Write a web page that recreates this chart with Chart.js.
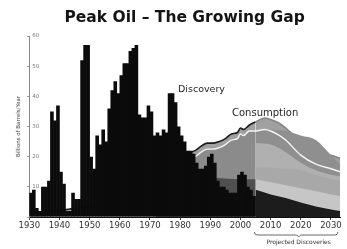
<!DOCTYPE html>
<html>
<head>
<meta charset="utf-8">
<script src="https://cdn.jsdelivr.net/npm/chart.js@4.4.0/dist/chart.umd.min.js"></script>
<style>
  html, body { margin: 0; padding: 0; background: #fff; }
</style>
</head>
<body>
<canvas id="chart" width="347" height="249"></canvas>
<script>
// Discoveries per year (billions of barrels)
const discoveryYears = [
  1930, 1931, 1932, 1933, 1934, 1935, 1936, 1937, 1938, 1939,
  1940, 1941, 1942, 1943, 1944, 1945, 1946, 1947, 1948, 1949,
  1950, 1951, 1952, 1953, 1954, 1955, 1956, 1957, 1958, 1959,
  1960, 1961, 1962, 1963, 1964, 1965, 1966, 1967, 1968, 1969,
  1970, 1971, 1972, 1973, 1974, 1975, 1976, 1977, 1978, 1979,
  1980, 1981, 1982, 1983, 1984, 1985, 1986, 1987, 1988, 1989,
  1990, 1991, 1992, 1993, 1994, 1995, 1996, 1997, 1998, 1999,
  2000, 2001, 2002, 2003, 2004
];
const discoveryValues = [
  8, 9, 3, 2, 10, 10, 12, 35, 32, 37,
  15, 11, 2, 2, 8, 6, 6, 52, 57, 57,
  20, 16, 27, 24, 29, 25, 36, 42, 45, 41,
  47, 51, 51, 55, 56, 57, 34, 33, 33, 37,
  35, 27, 28, 27, 29, 28, 41, 41, 38, 30,
  27, 25, 22, 22, 21, 18, 16, 16, 17, 20,
  21, 18, 12, 10, 10, 9, 8, 8, 8, 14,
  15, 14, 10, 9, 7
];

// Consumption (top edge of the grey area)
const consYears  = [1930, 1940, 1950, 1960, 1965, 1970, 1973, 1975, 1978, 1979, 1981, 1983, 1985, 1987, 1989, 1991, 1993, 1995, 1997, 1999, 2000, 2001, 2003, 2005, 2008, 2010, 2013, 2015, 2020, 2025, 2030, 2033];
const consValues = [1.5, 2.2, 4, 7.7, 11.5, 16.5, 20.5, 20, 23, 23.5, 22, 21.5, 22, 23.5, 24.5, 24.5, 25, 26, 27.5, 28, 29.5, 29, 30.5, 31.5, 32.8, 32.3, 31, 29.5, 25, 22.5, 20.5, 19.5];

// White line just below consumption
const whiteYears  = [1972, 1975, 1978, 1979, 1981, 1983, 1985, 1987, 1989, 1991, 1993, 1995, 1997, 1999, 2000, 2001, 2003, 2005, 2008, 2010, 2013, 2015, 2020, 2025, 2030, 2033];
const whiteValues = [17, 18, 20.5, 21.5, 20, 19.5, 20, 21.5, 22.5, 22.5, 23, 24, 25.5, 26, 27.5, 27, 28.5, 28.5, 29, 28.5, 27, 25.5, 20.5, 17.5, 16, 15];

// Lower historical band
const histDarkYears  = [1972, 1980, 1990, 2000, 2005];
const histDarkValues = [13, 13, 13, 12.5, 12.5];

// Projection bands
const projYears       = [2005, 2010, 2015, 2020, 2025, 2030, 2033];
const projBandValues  = [24.5, 24, 21.5, 18, 15.5, 14, 13.5];
const projLowerValues = [16.5, 16.3, 16, 15.5, 14, 12.5, 12];
const projLightValues = [12.5, 11.5, 10.5, 9.5, 8.5, 7.5, 7];
const projDiscValues  = [9, 7.5, 6.3, 4.8, 3.5, 2.5, 2];

const xTicks = [1930, 1940, 1950, 1960, 1970, 1980, 1990, 2000, 2010, 2020, 2030];

function pts(xs, ys, shift) {
    return xs.map((v, i) => ({ x: v + (shift || 0), y: ys[i] }));
}

function area(label, data, color, order) {
    return {
        type: 'line',
        label: label,
        data: data,
        backgroundColor: color,
        borderWidth: 0,
        pointRadius: 0,
        fill: 'origin',
        cubicInterpolationMode: 'monotone',
        order: order
    };
}

// Text labels and the bracket under the projected years
const notes = {
    id: 'notes',
    afterDatasetsDraw(chart) {
        const { ctx, scales: { x, y }, chartArea } = chart;
        ctx.save();
        ctx.fillStyle = '#1e1e1e';
        ctx.textAlign = 'left';
        ctx.textBaseline = 'alphabetic';
        ctx.font = '9.5px "DejaVu Sans"';
        ctx.fillText('Discovery', x.getPixelForValue(1979.3), y.getPixelForValue(41.5));
        ctx.font = '10px "DejaVu Sans"';
        ctx.fillText('Consumption', x.getPixelForValue(1997.2), y.getPixelForValue(33.5));

        const by = chartArea.bottom + 18;
        const x0 = x.getPixelForValue(2004.6), x1 = x.getPixelForValue(2032.3);
        const xm = x.getPixelForValue(2019.3);
        ctx.strokeStyle = '#444';
        ctx.lineWidth = 0.8;
        ctx.beginPath();
        ctx.moveTo(x0, by - 3);
        ctx.quadraticCurveTo(x0, by, x0 + 3, by);
        ctx.lineTo(xm - 2, by);
        ctx.lineTo(xm, by + 2);
        ctx.lineTo(xm + 2, by);
        ctx.lineTo(x1 - 3, by);
        ctx.quadraticCurveTo(x1, by, x1, by - 3);
        ctx.stroke();

        ctx.font = '6px "DejaVu Sans"';
        ctx.textAlign = 'center';
        ctx.fillStyle = '#333';
        ctx.fillText('Projected Discoveries', xm, by + 9);
        ctx.restore();
    }
};

new Chart(document.getElementById('chart'), {
    type: 'bar',
    data: {
        datasets: [
            {
                type: 'bar',
                label: 'Discovery',
                data: pts(discoveryYears, discoveryValues, 0.5),
                backgroundColor: '#0b0b0b',
                borderWidth: 0,
                barPercentage: 1.2,
                categoryPercentage: 1,
                order: 0
            },
            {
                type: 'line',
                label: 'white',
                data: pts(whiteYears, whiteValues),
                borderColor: '#f4f4f4',
                borderWidth: 1.4,
                pointRadius: 0,
                fill: false,
                cubicInterpolationMode: 'monotone',
                order: 1
            },
            area('histDark', pts(histDarkYears, histDarkValues), '#505050', 2),
            area('projDisc', pts(projYears, projDiscValues), '#1c1c1c', 3),
            area('projLight', pts(projYears, projLightValues), '#c6c6c6', 4),
            area('projLower', pts(projYears, projLowerValues), '#a8a8a8', 5),
            area('projMid', pts(projYears, projBandValues), '#b0b0b0', 6),
            area('projBand', pts(projYears, whiteValues.slice(17)), '#8f8f8f', 7),
            area('histWhite', pts(whiteYears.slice(0, 18), whiteValues.slice(0, 18)), '#8b8b8b', 8),
            {
                type: 'line',
                label: 'Consumption',
                data: pts(consYears, consValues),
                backgroundColor: '#a0a0a0',
                borderWidth: 1.6,
                segment: {
                    borderColor: c => c.p0.parsed.x < 2005 ? '#1a1a1a' : '#858585'
                },
                pointRadius: 0,
                fill: 'origin',
                cubicInterpolationMode: 'monotone',
                order: 9
            }
        ]
    },
    plugins: [notes],
    options: {
        responsive: false,
        animation: false,
        layout: { padding: { left: 0, right: 7, top: 0, bottom: 18 } },
        plugins: {
            legend: { display: false },
            tooltip: { enabled: false },
            title: {
                display: true,
                text: 'Peak Oil \u2013 The Growing Gap',
                fullSize: false,
                color: '#141414',
                font: { family: 'DejaVu Sans', size: 15.5, weight: 'bold' },
                padding: { top: 9, bottom: 8.4 }
            }
        },
        scales: {
            x: {
                type: 'linear',
                min: 1930,
                max: 2033,
                offset: false,
                afterFit: s => { s.height = 14; },
                afterBuildTicks: s => { s.ticks = xTicks.map(v => ({ value: v })); },
                border: { color: '#111', width: 1 },
                grid: { offset: false, drawOnChartArea: false, tickLength: 3, color: '#444' },
                ticks: {
                    padding: 1,
                    maxRotation: 0,
                    autoSkip: false,
                    color: '#333',
                    font: { family: 'DejaVu Sans', size: 8.5 },
                    callback: v => String(v)
                }
            },
            y: {
                min: 0,
                max: 60,
                afterFit: s => { s.width = 29.3; },
                border: { color: '#8a8a8a', width: 1 },
                grid: { drawOnChartArea: false, tickLength: 2, color: '#8a8a8a' },
                ticks: {
                    stepSize: 10,
                    mirror: true,
                    padding: 3,
                    color: '#777',
                    font: { family: 'DejaVu Sans', size: 5.5 },
                    callback: v => v === 0 ? '' : String(v)
                },
                title: {
                    display: true,
                    text: 'Billions of Barrels/Year',
                    color: '#444',
                    font: { family: 'DejaVu Sans', size: 5.5 },
                    padding: { top: 15, bottom: 0 }
                }
            }
        }
    }
});
</script>
</body>
</html>
